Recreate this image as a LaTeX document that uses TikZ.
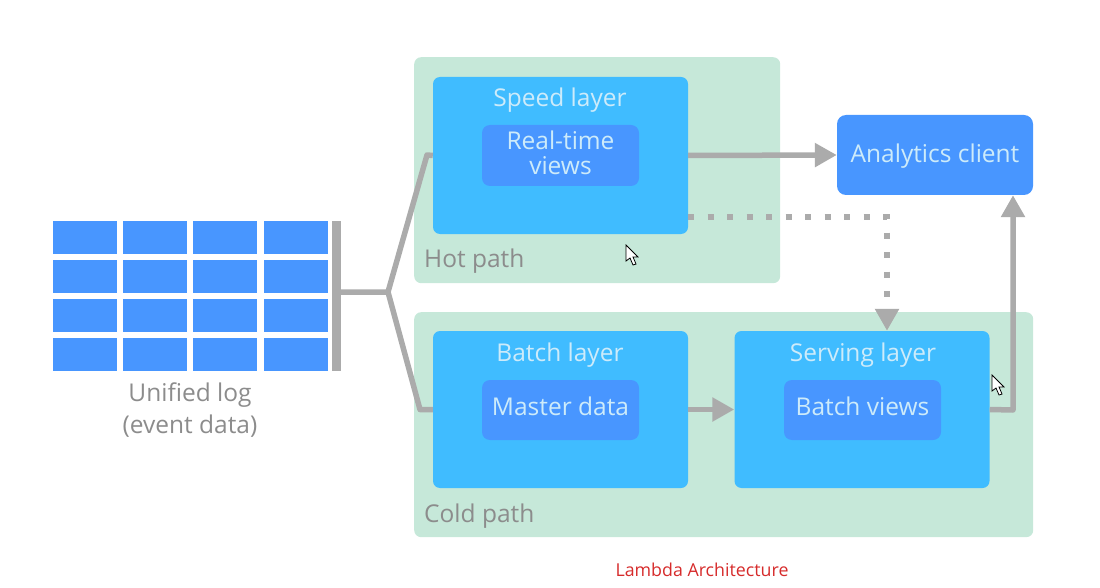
\documentclass[tikz,border=0pt]{standalone}
\usepackage{fontspec}
\setmainfont{Open Sans}
\usetikzlibrary{positioning,arrows.meta}
\definecolor{panelgreen}{HTML}{C6E8D9}
\definecolor{layerblue}{HTML}{40BCFF}
\definecolor{viewblue}{HTML}{4896FF}
\definecolor{linegray}{HTML}{ABABAB}
\definecolor{lighttext}{HTML}{CDEBFA}
\definecolor{graytext}{HTML}{8C8C8C}
\definecolor{captionred}{HTML}{D62B2B}
\tikzset{
    panel/.style={fill=panelgreen,rounded corners=7pt,anchor=north west,inner sep=0pt},
    layer/.style={fill=layerblue,rounded corners=7pt,inner sep=0pt,minimum width=255pt,minimum height=157pt},
    view/.style={fill=viewblue,rounded corners=8pt,inner sep=0pt,minimum width=157pt,text=lighttext,align=center,
        font=\fontsize{24.5}{25}\selectfont},
    cell/.style={fill=viewblue,inner sep=0pt,minimum width=64pt,minimum height=33pt},
    title/.style={text=lighttext,font=\fontsize{24.5}{26}\selectfont,inner sep=0pt},
    pathlabel/.style={text=graytext,font=\fontsize{24.5}{26}\selectfont,inner sep=0pt,anchor=west},
    link/.style={draw=linegray,line width=5.5pt},
    tip/.style={-{Triangle[length=22pt,width=23pt]}},
    mousearrow/.pic={
        \draw[fill=white,line width=0.8pt,line join=miter] (0,0) -- (0,16) -- (4,13) -- (7,20) -- (10,19) -- (7,12) -- (12,12) -- cycle;
    }
}
\begin{document}
\begin{tikzpicture}[x=1pt,y=-1pt]
    \useasboundingbox (0,0) rectangle (1100,588);
    % Paths
    \node[panel,minimum width=366pt,minimum height=226pt] (hotpanel) at (414,57) {};
    \node[panel,minimum width=619pt,minimum height=225pt] (coldpanel) at (414,312) {};
    \node[pathlabel] (hotlabel) at (424,261) {Hot path};
    \node[pathlabel] (coldlabel) at (424,516) {Cold path};

    % Unified log
    \foreach \row/\y in {0/237.5,1/276.5,2/315.5,3/354.5}
        \foreach \col/\x in {0/85,1/155,2/225,3/296}
            \node[cell] (cell\row\col) at (\x,\y) {};
    \node[fill=linegray,inner sep=0pt,minimum width=9pt,minimum height=150pt] (logbar) at (336.5,296) {};
    \node[text=graytext,align=center,inner sep=0pt,font=\fontsize{24.5}{32}\selectfont] (loglabel) at (190,410) {Unified log\\(event data)};

    % Boxes
    \node[layer] (speed) at (560.5,155.5) {};
    \node[layer] (batch) at (560.5,409.5) {};
    \node[layer] (serving) at (862,409.5) {};
    \node[view,minimum height=61pt,text depth=5pt] (realtime) at (560.5,155.5) {Real-time\\views};
    \node[view,minimum height=60pt,text height=18pt,text depth=8pt] (master) at (560.5,410) {Master data};
    \node[view,minimum height=60pt,text height=18pt,text depth=8pt] (batchviews) at (862.5,410) {Batch views};
    \node[title] (speedtitle) at (560,100) {Speed layer};
    \node[title] (batchtitle) at (560,355) {Batch layer};
    \node[title] (servingtitle) at (863,355) {Serving layer};
    \node[view,rounded corners=9pt,minimum width=196pt,minimum height=80pt,text height=18.5pt,text depth=2.5pt] (analytics) at (935,155) {Analytics client};

    % Connectors
    \coordinate (fork) at (388,292);
    \coordinate (dotcorner) at (887,217);
    \coordinate (upcorner) at (1013,410);
    \draw[link,line join=round] (logbar.east |- fork) -- (fork) -- (427,155) -- (speed.west);
    \draw[link,line join=round] (fork) -- (420,409.5) -- (batch.west);
    \draw[link,tip] (speed.east) -- (analytics.west);
    \draw[link,tip] (batch.east) -- (serving.west);
    \draw[link,tip,line join=round] (serving.east) -- (upcorner) -- (upcorner |- analytics.south);
    \draw[link,tip,line width=6pt,dash pattern=on 6pt off 13.5pt] (speed.east |- dotcorner) -- (dotcorner) -- (dotcorner |- serving.north);

    % Mouse pointers
    \pic at (626,245) {mousearrow};
    \pic at (992,375) {mousearrow};

    \node[text=captionred,inner sep=0pt,font=\fontsize{17.8}{20}\selectfont] (caption) at (702,570) {Lambda Architecture};
\end{tikzpicture}
\end{document}
